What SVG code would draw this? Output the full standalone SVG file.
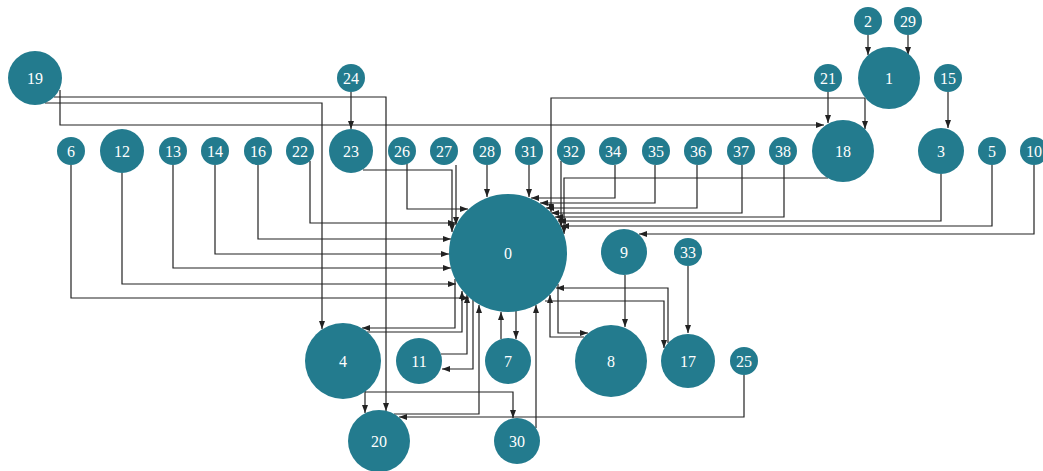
<svg xmlns="http://www.w3.org/2000/svg" width="1043" height="471" viewBox="0 0 1043 471">
<style>
.n circle{fill:#237b8e;}
.n text{fill:#ffffff;font-family:"Liberation Serif","Times New Roman",serif;font-size:16px;text-anchor:middle;dominant-baseline:central;}
#edges path{fill:none;stroke:#222;stroke-width:1.2;marker-end:url(#arr);}
</style>
<defs>
<marker id="arr" viewBox="0 0 8 6" refX="8" refY="3" markerWidth="8" markerHeight="6" orient="auto" markerUnits="userSpaceOnUse">
<path d="M0,0 L8,3 L0,6 z" fill="#222"/>
</marker>
</defs>
<rect width="1043" height="471" fill="#fff"/>
<g id="edges">
<path d="M868,35 V55"/>
<path d="M908,35 V55"/>
<path d="M948,92 V128"/>
<path d="M828,92 V123"/>
<path d="M865,98 V129"/>
<path d="M865,98 H551 V212"/>
<path d="M60,90 V125 H824"/>
<path d="M54,97 H386 V411"/>
<path d="M45,103 H322 V329"/>
<path d="M351,92 V129"/>
<path d="M363,170 H452 V232"/>
<path d="M456,165 V225"/>
<path d="M310,161 V223 H456"/>
<path d="M407,164 V209 H468"/>
<path d="M487,165 V197"/>
<path d="M529,165 V197"/>
<path d="M561,161 V227"/>
<path d="M615,165 V198 H531"/>
<path d="M655,165 V203 H540"/>
<path d="M697,165 V208 H546"/>
<path d="M742,165 V213 H551"/>
<path d="M784,165 V217 H555"/>
<path d="M941,174 V221 H558"/>
<path d="M992,165 V226 H561"/>
<path d="M1034,165 V234 H639"/>
<path d="M828,178 H564 V234"/>
<path d="M258,165 V239 H451"/>
<path d="M215,165 V254 H449"/>
<path d="M173,165 V268 H451"/>
<path d="M122,173 V284 H456"/>
<path d="M71,165 V298 H469"/>
<path d="M455,279 V328 H362"/>
<path d="M367,332 H462 V291"/>
<path d="M441,354 H467 V295"/>
<path d="M473,300 V369 H442"/>
<path d="M394,414 H479 V305"/>
<path d="M744,375 V417 H399"/>
<path d="M501,339 V312"/>
<path d="M516,311 V339"/>
<path d="M536,428 V305"/>
<path d="M365,391 V413"/>
<path d="M365,392 H513 V418"/>
<path d="M625,275 V327"/>
<path d="M688,266 V333"/>
<path d="M668,343 V288 H556"/>
<path d="M545,301 H664 V348"/>
<path d="M584,337 H550 V295"/>
<path d="M558,284 V333 H588"/>
</g>
<g id="n0" class="n"><circle cx="508" cy="253" r="59"/><text x="508" y="253">0</text></g>
<g id="n1" class="n"><circle cx="889" cy="78" r="31"/><text x="889" y="78">1</text></g>
<g id="n2" class="n"><circle cx="868" cy="21" r="14"/><text x="868" y="21">2</text></g>
<g id="n29" class="n"><circle cx="908" cy="21" r="14"/><text x="908" y="21">29</text></g>
<g id="n19" class="n"><circle cx="35" cy="78" r="27"/><text x="35" y="78">19</text></g>
<g id="n24" class="n"><circle cx="351" cy="78" r="14"/><text x="351" y="78">24</text></g>
<g id="n21" class="n"><circle cx="828" cy="78" r="14"/><text x="828" y="78">21</text></g>
<g id="n15" class="n"><circle cx="948" cy="78" r="14"/><text x="948" y="78">15</text></g>
<g id="n6" class="n"><circle cx="71" cy="151" r="14"/><text x="71" y="151">6</text></g>
<g id="n12" class="n"><circle cx="122" cy="151" r="22"/><text x="122" y="151">12</text></g>
<g id="n13" class="n"><circle cx="173" cy="151" r="14"/><text x="173" y="151">13</text></g>
<g id="n14" class="n"><circle cx="215" cy="151" r="14"/><text x="215" y="151">14</text></g>
<g id="n16" class="n"><circle cx="258" cy="151" r="14"/><text x="258" y="151">16</text></g>
<g id="n22" class="n"><circle cx="300" cy="151" r="14"/><text x="300" y="151">22</text></g>
<g id="n23" class="n"><circle cx="351" cy="151" r="22"/><text x="351" y="151">23</text></g>
<g id="n26" class="n"><circle cx="402" cy="151" r="14"/><text x="402" y="151">26</text></g>
<g id="n27" class="n"><circle cx="444" cy="151" r="14"/><text x="444" y="151">27</text></g>
<g id="n28" class="n"><circle cx="487" cy="151" r="14"/><text x="487" y="151">28</text></g>
<g id="n31" class="n"><circle cx="529" cy="151" r="14"/><text x="529" y="151">31</text></g>
<g id="n32" class="n"><circle cx="571" cy="151" r="14"/><text x="571" y="151">32</text></g>
<g id="n34" class="n"><circle cx="613" cy="151" r="14"/><text x="613" y="151">34</text></g>
<g id="n35" class="n"><circle cx="656" cy="151" r="14"/><text x="656" y="151">35</text></g>
<g id="n36" class="n"><circle cx="698" cy="151" r="14"/><text x="698" y="151">36</text></g>
<g id="n37" class="n"><circle cx="741" cy="151" r="14"/><text x="741" y="151">37</text></g>
<g id="n38" class="n"><circle cx="783" cy="151" r="14"/><text x="783" y="151">38</text></g>
<g id="n18" class="n"><circle cx="843" cy="151" r="31"/><text x="843" y="151">18</text></g>
<g id="n3" class="n"><circle cx="941" cy="151" r="23"/><text x="941" y="151">3</text></g>
<g id="n5" class="n"><circle cx="992" cy="151" r="14"/><text x="992" y="151">5</text></g>
<g id="n10" class="n"><circle cx="1034" cy="151" r="14"/><text x="1034" y="151">10</text></g>
<g id="n9" class="n"><circle cx="624" cy="252" r="23"/><text x="624" y="252">9</text></g>
<g id="n33" class="n"><circle cx="688" cy="252" r="14"/><text x="688" y="252">33</text></g>
<g id="n4" class="n"><circle cx="343" cy="361" r="38"/><text x="343" y="361">4</text></g>
<g id="n11" class="n"><circle cx="419" cy="361" r="23"/><text x="419" y="361">11</text></g>
<g id="n7" class="n"><circle cx="508" cy="361" r="23"/><text x="508" y="361">7</text></g>
<g id="n8" class="n"><circle cx="611" cy="361" r="36"/><text x="611" y="361">8</text></g>
<g id="n17" class="n"><circle cx="688" cy="361" r="27"/><text x="688" y="361">17</text></g>
<g id="n25" class="n"><circle cx="744" cy="361" r="14"/><text x="744" y="361">25</text></g>
<g id="n20" class="n"><circle cx="379" cy="441" r="31"/><text x="379" y="441">20</text></g>
<g id="n30" class="n"><circle cx="517" cy="441" r="23"/><text x="517" y="441">30</text></g>
</svg>
